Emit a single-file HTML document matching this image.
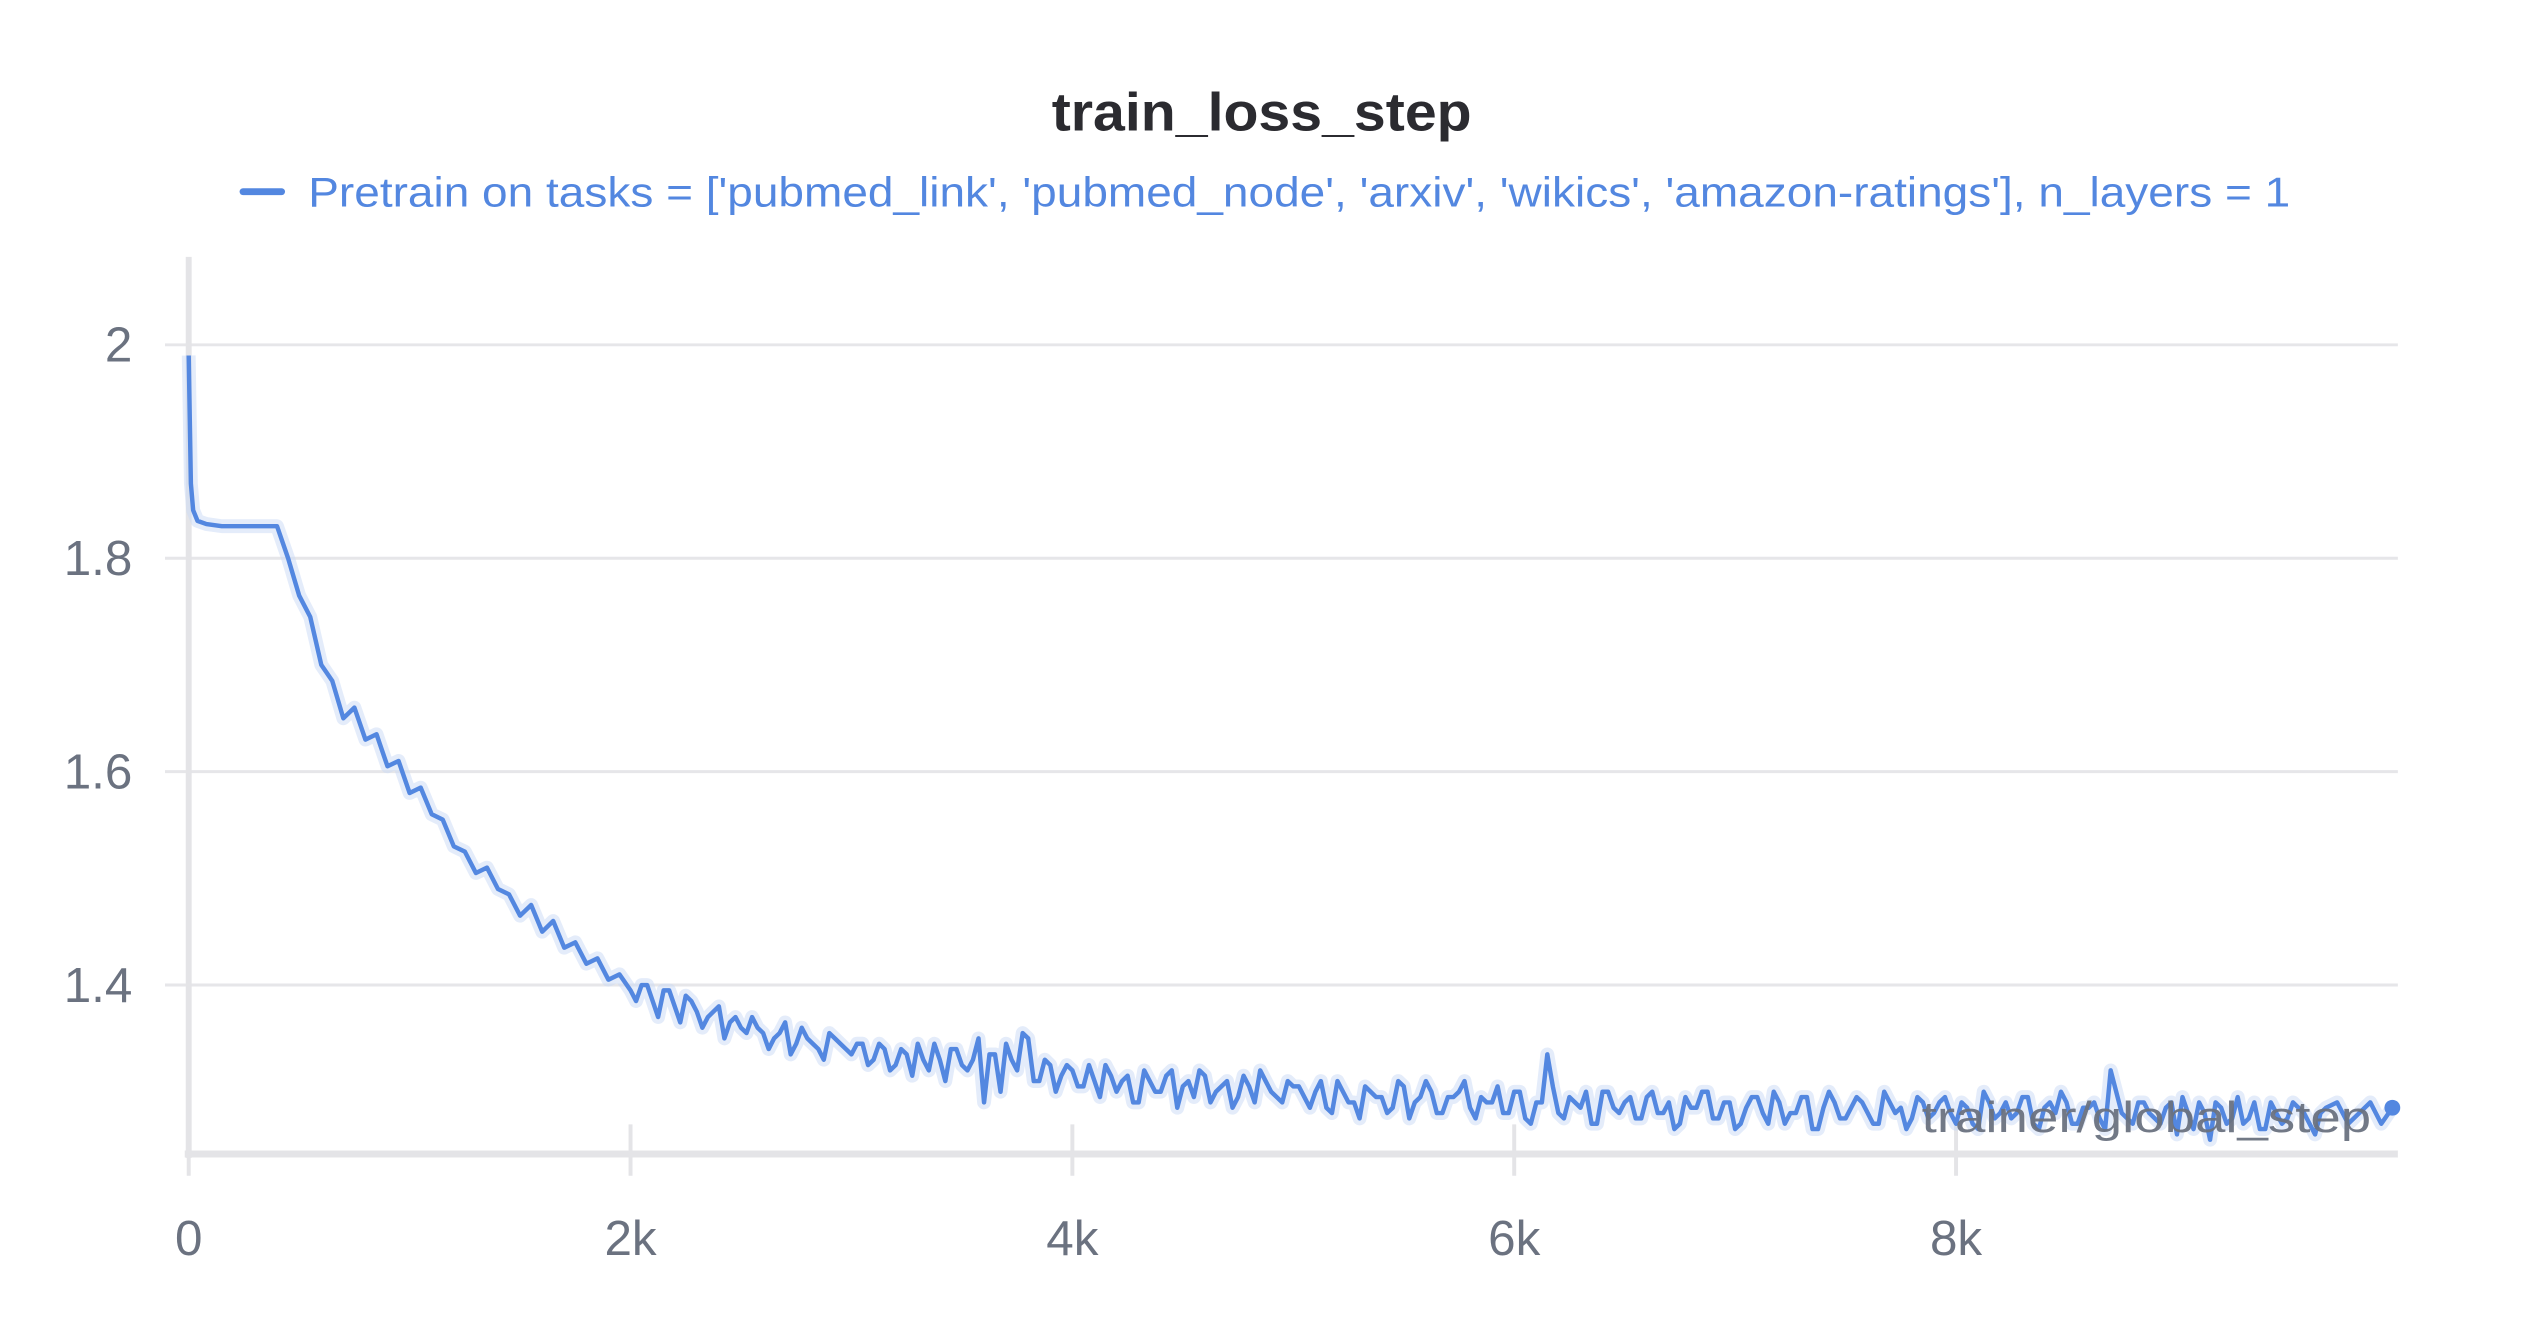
<!DOCTYPE html>
<html><head><meta charset="utf-8"><style>
html,body{margin:0;padding:0;background:#fff;}
svg{display:block;font-family:"Liberation Sans",sans-serif;}
</style></head><body>
<svg id="chart" width="2528" height="1328" viewBox="0 0 2528 1328">
<g transform="scale(0.988)">
<text x="1277" y="132" text-anchor="middle" font-size="54" font-weight="bold" fill="#2b2b30" textLength="425" lengthAdjust="spacingAndGlyphs">train_loss_step</text>
<g>
<line x1="246" y1="194" x2="285" y2="194" stroke="#5387e0" stroke-width="7" stroke-linecap="round"/>
<text x="312" y="209" font-size="42" fill="#5387e0" textLength="2006" lengthAdjust="spacingAndGlyphs">Pretrain on tasks = ['pubmed_link', 'pubmed_node', 'arxiv', 'wikics', 'amazon-ratings'], n_layers = 1</text>
</g>
<g id="grid"></g>
<g id="axes"></g>
<g id="series"></g>
<text x="2400" y="1146" text-anchor="end" font-size="44" fill="#6b7280" opacity="0.95" textLength="455" lengthAdjust="spacingAndGlyphs">trainer/global_step</text>
</g>
</svg>
<script>
const yTicks=[1.4,1.6,1.8,2];
const yTickLabels=["1.4","1.6","1.8","2"];
const xTicks=[0,2000,4000,6000,8000];
const xTickLabels=["0","2k","4k","6k","8k"];
const earlySteps=[0,5,10,20,40,80,150,250,350];
const earlyLoss=[1.99,1.93,1.87,1.845,1.835,1.832,1.83,1.83,1.83];
const laterStart=400;
const laterInterval=50;
const laterLoss=[1.83,1.80,1.765,1.745,1.70,1.685,1.65,1.66,1.63,1.635,1.605,1.61,1.58,1.585,1.56,1.555,1.53,1.525,1.505,1.51,1.49,1.485,1.465,1.475,1.45,1.46,1.435,1.44,1.42,1.425,1.405,1.41,1.395,
1.40,1.385,1.395,1.38,1.39,1.375,1.37,1.38,1.365,1.36,1.37,1.355,1.35,1.365,1.345,1.35,1.34,1.355,1.345,
1.335,1.345,1.33,1.34,1.325,1.335,1.345,1.32,1.33,1.34,1.325,1.33,1.29,1.335,1.345,1.32,1.35,1.31,1.325,1.315,
1.32,1.305,1.31,1.325,1.30,1.315,1.29,1.31,1.30,1.32,1.305,1.295,1.315,1.30,1.31,1.295,1.305,1.32,1.30,
1.29,1.305,1.295,1.30,1.285,1.31,1.29,1.275,1.30,1.295,1.285,1.305,1.29,1.31,1.28,1.295,1.30,1.285,1.295,
1.29,1.28,1.30,1.275,1.29,1.335,1.28,1.295,1.285,1.27,1.30,1.285,1.29,1.275,1.295,1.28,1.29,1.27,1.285,
1.30,1.275,1.29,1.265,1.285,1.295,1.27,1.29,1.28,1.295,1.265,1.285,1.29,1.275,1.295,1.28,1.27,1.29,1.285,
1.275,1.29,1.28,1.295,1.27,1.285,1.265,1.29,1.28,1.275,1.295,1.27,1.285,1.28,1.29,1.27,1.285,1.275,1.32,
1.28,1.27,1.29,1.275,1.285,1.26,1.28,1.29,1.255,1.285,1.275,1.27,1.29,1.265,1.28,1.275,1.285,1.27,1.28];
const midStart=2025;
const midInterval=50;
const midLoss=[1.385,1.40,1.37,1.395,1.365,1.385,1.36,1.375,1.35,1.37,1.355,1.36,1.34,1.355,1.335,1.36,1.345,1.33,1.35,1.34,
1.345,1.325,1.345,1.32,1.34,1.315,1.33,1.345,1.31,1.34,1.32,1.35,1.335,1.30,1.33,1.355,1.31,1.33,1.30,1.325,
1.305,1.325,1.295,1.315,1.31,1.29,1.32,1.30,1.315,1.285,1.31,1.32,1.29,1.305,1.285,1.315,1.29,1.31,1.295,1.31,
1.305,1.285,1.31,1.28,1.30,1.29,1.305,1.295,1.28,1.31,1.275,1.295,1.30,1.28,1.295,1.31,1.275,1.29,1.305,1.28,
1.30,1.27,1.29,1.305,1.275,1.29,1.30,1.27,1.30,1.28,1.295,1.275,1.30,1.28,1.265,1.295,1.285,1.30,1.275,1.29,
1.27,1.295,1.28,1.30,1.27,1.28,1.295,1.265,1.30,1.275,1.285,1.29,1.27,1.30,1.28,1.265,1.295,1.275,1.29,1.28,
1.29,1.27,1.30,1.275,1.29,1.28,1.295,1.265,1.29,1.30,1.27,1.285,1.29,1.265,1.30,1.275,1.29,1.28,1.27,1.29,
1.295,1.265,1.28,1.29,1.27,1.295,1.275,1.265,1.29,1.27,1.29,1.28,1.26,1.285,1.29,1.27,1.28,1.29,1.27,1.285];

const X0=191,X1=2427,Y0=1168;
function xs(v){return X0+(v/10000)*(X1-X0);}
function ys(v){return 997-(v-1.4)/0.2*216;}
const NS="http://www.w3.org/2000/svg";
function mk(tag,attrs,parent){const e=document.createElementNS(NS,tag);for(const k in attrs)e.setAttribute(k,attrs[k]);parent.appendChild(e);return e;}
const grid=document.getElementById('grid'),axes=document.getElementById('axes'),series=document.getElementById('series');
yTicks.forEach((t,i)=>{
  const y=ys(t);
  const g=mk('line',{x1:X0-24,x2:X1,y1:y,y2:y,stroke:'#e6e6e9','stroke-width':3},grid);
  
  
  const l=mk('text',{x:134,y:y+17,'text-anchor':'end','font-size':50,fill:'#6b7280'},axes);
  l.textContent=yTickLabels[i];
  
  
});
const ya=mk('line',{x1:X0,x2:X0,y1:260,y2:Y0+4,stroke:'#e4e4e7','stroke-width':6},axes);


const xa=mk('line',{x1:X0-4,x2:X1,y1:Y0,y2:Y0,stroke:'#e4e4e7','stroke-width':7},axes);


xTicks.forEach((t,i)=>{
  const x=xs(t);
  const tk=mk('line',{x1:x,x2:x,y1:Y0-30,y2:Y0+22,stroke:'#e4e4e7','stroke-width':4},axes);
  
  
  const l=mk('text',{x:x,y:1270,'text-anchor':'middle','font-size':50,fill:'#6b7280'},axes);
  l.textContent=xTickLabels[i];
  
  
});
const pts=[];
earlySteps.forEach((s,i)=>pts.push([s,earlyLoss[i]]));
laterLoss.forEach((v,i)=>pts.push([laterStart+i*laterInterval,v]));
midLoss.forEach((v,i)=>pts.push([midStart+i*midInterval,v]));
pts.sort((a,b)=>a[0]-b[0]);
const d=pts.map((p,i)=>(i?'L':'M')+xs(p[0]).toFixed(1)+','+ys(p[1]).toFixed(1)).join(' ');
const band=mk('path',{d:d,fill:'none',stroke:'#c9d9f6','stroke-width':14,opacity:0.5,'stroke-linejoin':'round'},series);


const line=mk('path',{d:d,fill:'none',stroke:'#5387e0','stroke-width':4.5,'stroke-linejoin':'round'},series);


const last=pts[pts.length-1];
const dot=mk('circle',{cx:xs(last[0]),cy:ys(last[1]),r:8,fill:'#5387e0'},series);


</script>
</body></html>
